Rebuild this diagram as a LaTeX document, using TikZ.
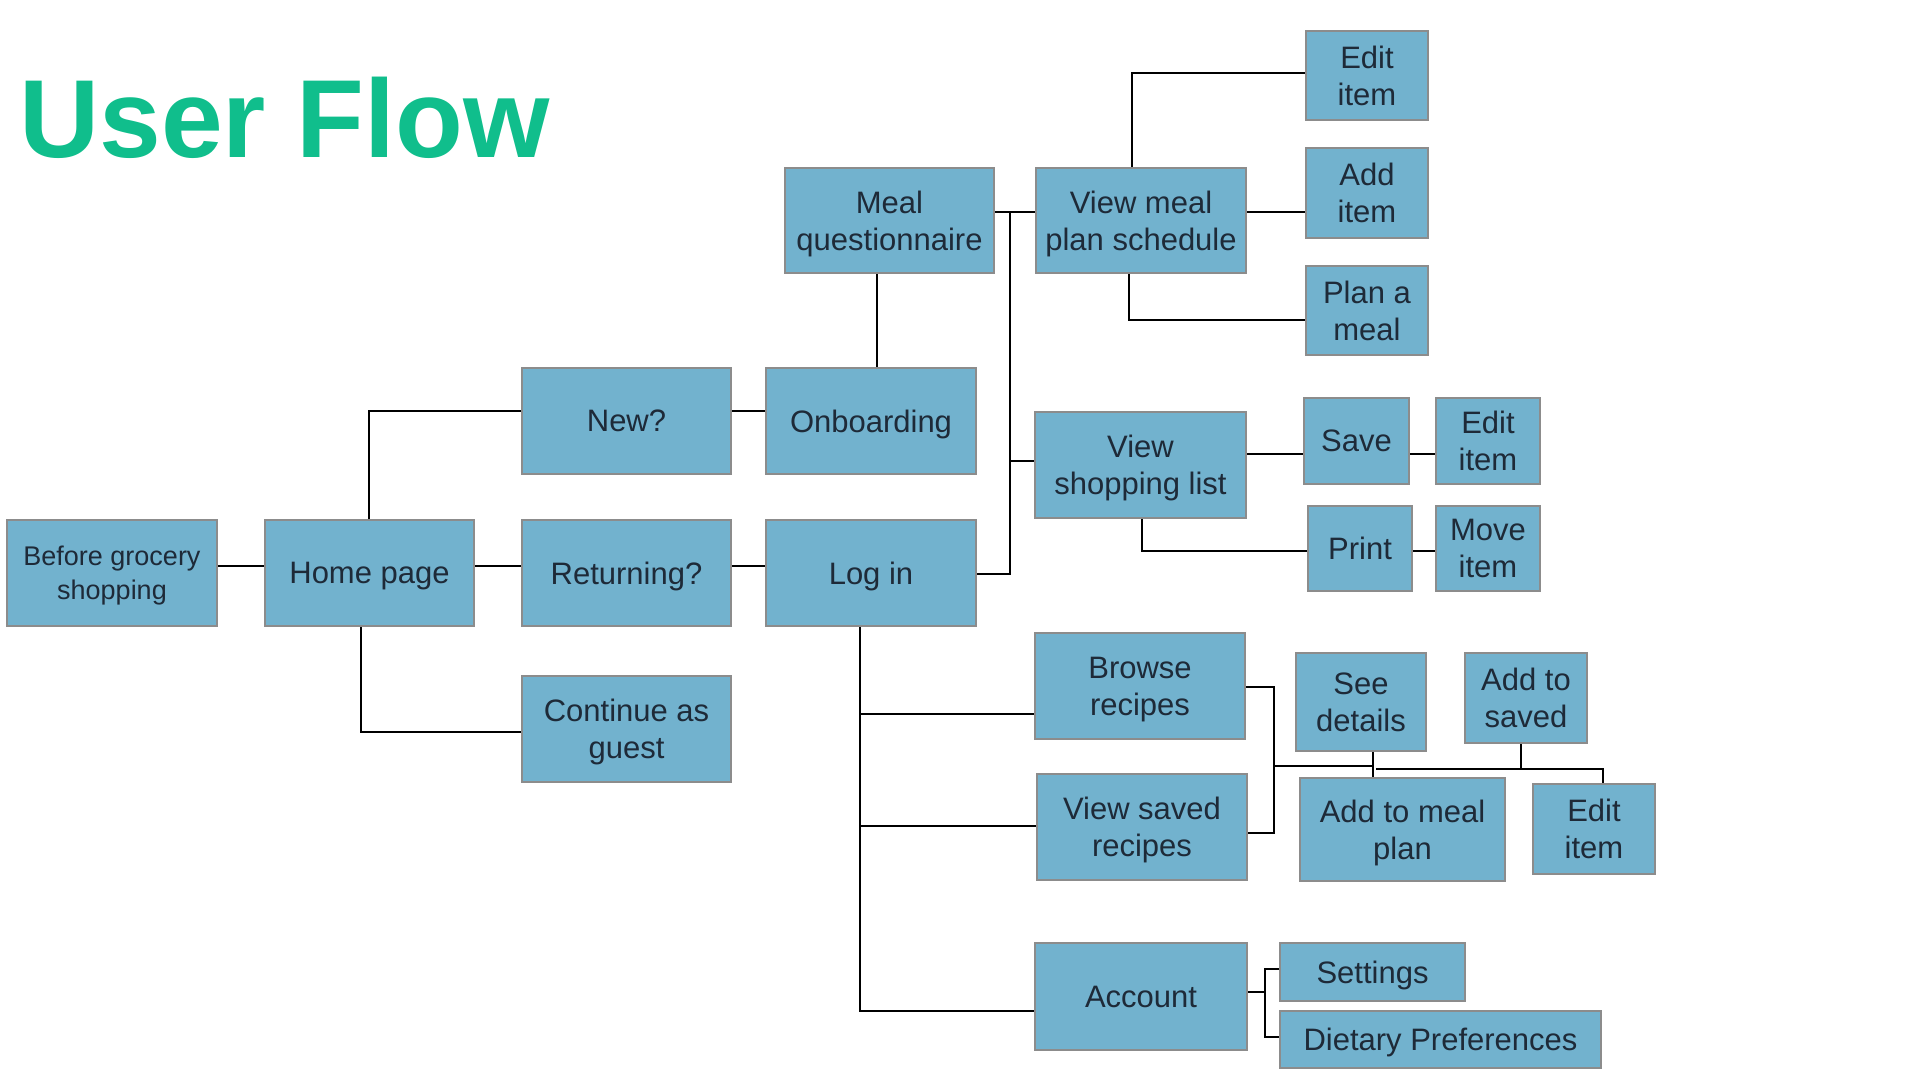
\documentclass[tikz,border=0pt]{standalone}
\usepackage{fontspec}
\setmainfont{Liberation Sans}
\definecolor{boxfill}{HTML}{72B2CE}
\definecolor{boxline}{HTML}{8C8C8C}
\definecolor{titlegreen}{HTML}{10BE8C}
\definecolor{txt}{HTML}{1E2A38}
\tikzset{
  box/.style={draw=boxline, line width=2pt, fill=boxfill, align=center,
    text=txt, inner sep=0pt, text depth=0pt, font=\fontsize{31}{37}\selectfont},
  link/.style={draw=black, line width=2pt}
}
\begin{document}
\begin{tikzpicture}[x=1pt,y=-1pt]
\useasboundingbox (0,0) rectangle (1920,1080);
\node[anchor=base west, inner sep=0pt, text=titlegreen, font=\fontsize{111}{111}\selectfont\bfseries] (title) at (19,157) {User Flow};

% boxes
\node[box, minimum width=210pt, minimum height=106pt, font=\fontsize{27}{34}\selectfont] (before) at (112,573) {Before grocery\\shopping};
\node[box, minimum width=209pt, minimum height=106pt] (home) at (369.5,573) {Home page};
\node[box, minimum width=209pt, minimum height=106pt] (new) at (626.5,421) {New?};
\node[box, minimum width=210pt, minimum height=106pt] (onboard) at (871,421) {Onboarding};
\node[box, minimum width=209pt, minimum height=106pt] (returning) at (626.5,573) {Returning?};
\node[box, minimum width=210pt, minimum height=106pt] (login) at (871,573) {Log in};
\node[box, minimum width=209pt, minimum height=106pt] (guest) at (626.5,729) {Continue as\\guest};
\node[box, minimum width=209pt, minimum height=105pt] (mq) at (889.5,220.5) {Meal\\questionnaire};
\node[box, minimum width=210pt, minimum height=105pt] (vmps) at (1141,220.5) {View meal\\plan schedule};
\node[box, minimum width=122pt, minimum height=89pt] (edit1) at (1367,75.5) {Edit\\item};
\node[box, minimum width=122pt, minimum height=90pt] (additem) at (1367,193) {Add\\item};
\node[box, minimum width=122pt, minimum height=89pt] (plan) at (1367,310.5) {Plan a\\meal};
\node[box, minimum width=211pt, minimum height=106pt] (vsl) at (1140.5,465) {View\\shopping list};
\node[box, minimum width=105pt, minimum height=86pt] (save) at (1356.5,441) {Save};
\node[box, minimum width=104pt, minimum height=86pt] (edit2) at (1488,441) {Edit\\item};
\node[box, minimum width=104pt, minimum height=85pt] (print) at (1360,548.5) {Print};
\node[box, minimum width=104pt, minimum height=85pt] (move) at (1488,548.5) {Move\\item};
\node[box, minimum width=210pt, minimum height=106pt] (browse) at (1140,686) {Browse\\recipes};
\node[box, minimum width=210pt, minimum height=106pt] (vsr) at (1142,827) {View saved\\recipes};
\node[box, minimum width=130pt, minimum height=98pt] (see) at (1361,702) {See\\details};
\node[box, minimum width=122pt, minimum height=90pt] (addsaved) at (1526,698) {Add to\\saved};
\node[box, minimum width=205pt, minimum height=103pt] (addmeal) at (1402.5,829.5) {Add to meal\\plan};
\node[box, minimum width=122pt, minimum height=90pt] (edit3) at (1594,829) {Edit\\item};
\node[box, minimum width=212pt, minimum height=107pt] (account) at (1141,996.5) {Account};
\node[box, minimum width=185pt, minimum height=58pt] (settings) at (1372.5,972) {Settings};
\node[box, minimum width=321pt, minimum height=57pt] (dietary) at (1440.5,1039.5) {Dietary Preferences};

% junctions
\coordinate (j1) at (1010,212);
\coordinate (j2) at (1274,766);
\coordinate (j2b) at (1373,766);
\coordinate (j3) at (1265,1000);
\coordinate (j4) at (1376,769);
\coordinate (j4b) at (1521,769);

% connectors
\draw[link] (before.east |- 0,566) -- (home.west |- 0,566);
\draw[link] (home.east |- 0,566) -- (returning.west |- 0,566);
\draw[link] (returning.east |- 0,566) -- (login.west |- 0,566);
\draw[link] (home.north -| 369,0) |- (new.west |- 0,411);
\draw[link] (home.south -| 361,0) |- (guest.west |- 0,732);
\draw[link] (new.east |- 0,411) -- (onboard.west |- 0,411);
\draw[link] (mq.south -| 877,0) -- (onboard.north -| 877,0);
\draw[link] (mq.east |- 0,212) -- (vmps.west |- 0,212);
\draw[link] (login.east |- 0,574) -| (j1);
\draw[link] (j1 |- 0,461) -- (vsl.west |- 0,461);
\draw[link] (vmps.north -| 1132,0) |- (edit1.west |- 0,73);
\draw[link] (vmps.east |- 0,212) -- (additem.west |- 0,212);
\draw[link] (vmps.south -| 1129,0) |- (plan.west |- 0,320);
\draw[link] (vsl.east |- 0,454) -- (save.west |- 0,454);
\draw[link] (save.east |- 0,454) -- (edit2.west |- 0,454);
\draw[link] (vsl.south -| 1142,0) |- (print.west |- 0,551);
\draw[link] (print.east |- 0,551) -- (move.west |- 0,551);
\draw[link] (login.south -| 860,0) |- (account.west |- 0,1011);
\draw[link] (login.south -| 860,0) |- (browse.west |- 0,714);
\draw[link] (login.south -| 860,0) |- (vsr.west |- 0,826);
\draw[link] (browse.east |- 0,687) -| (j2) |- (vsr.east |- 0,833);
\draw[link] (j2) -- (j2b);
\draw[link] (see.south -| j2b) -- (addmeal.north -| j2b);
\draw[link] (j4) -| (edit3.north -| 1603,0);
\draw[link] (addsaved.south -| j4b) -- (j4b);
\draw[link] (account.east |- 0,992) -- (j3 |- 0,992);
\draw[link] (settings.west |- 0,969) -| (j3) |- (dietary.west |- 0,1037);
\end{tikzpicture}
\end{document}
